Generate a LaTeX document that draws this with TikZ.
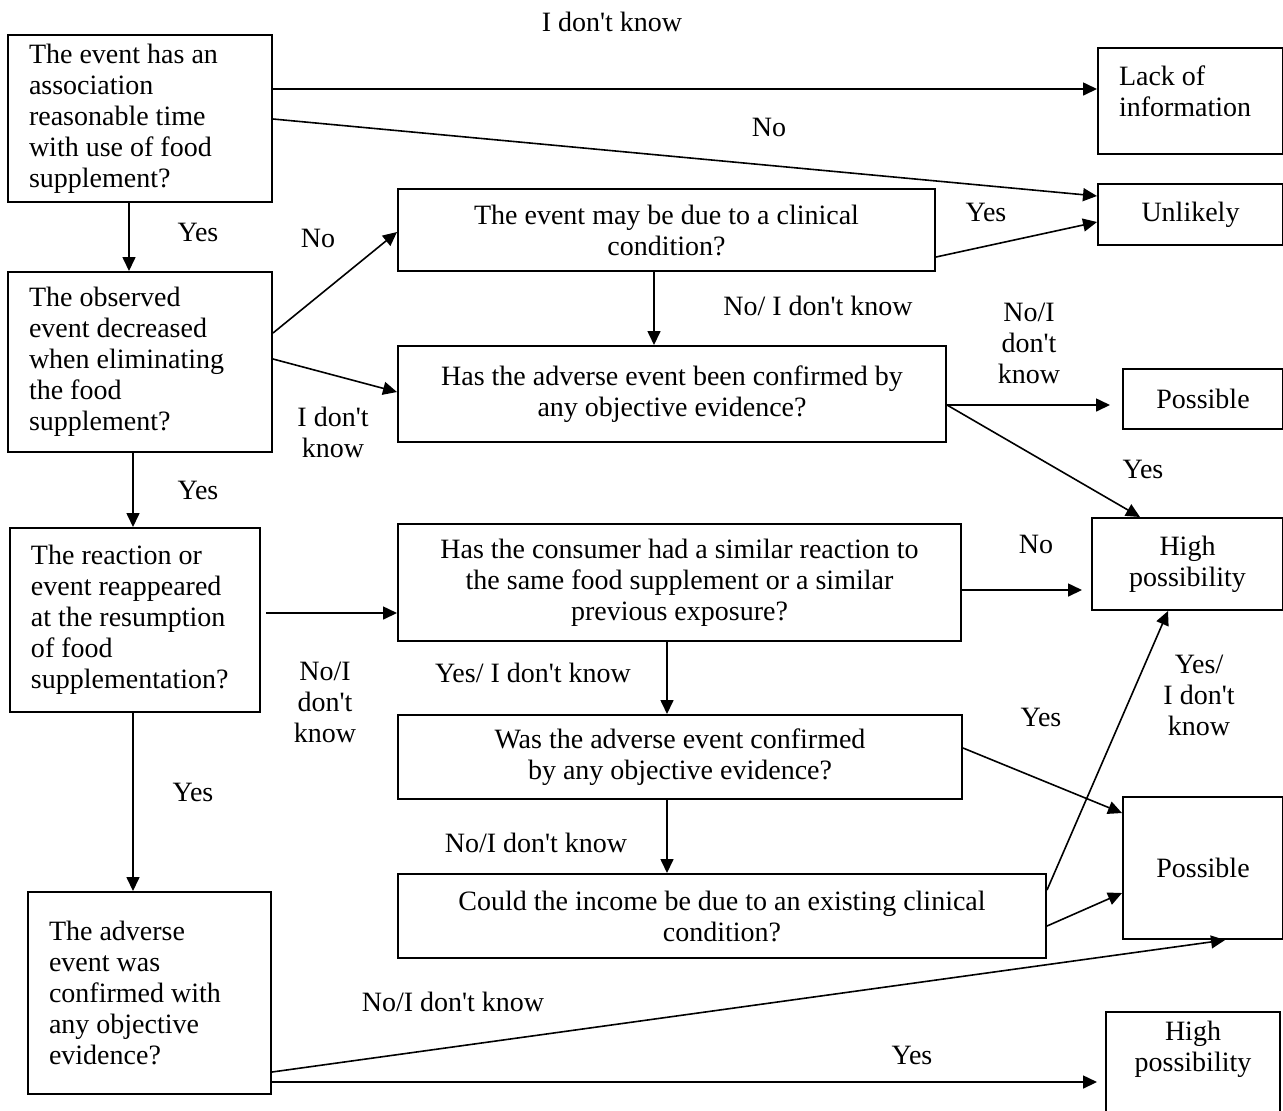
\documentclass[tikz,border=0pt]{standalone}
\usepackage{fontspec}
\setmainfont{Liberation Serif}
\usetikzlibrary{arrows.meta}
\newcommand{\apo}{\textquotesingle}

\begin{document}
\begin{tikzpicture}[
    x=0.5pt, y=-0.5pt,
    every node/.style={font=\fontsize{14}{15.5}\selectfont},
    qbox/.style={draw, line width=1pt, align=flush left, inner xsep=10.5pt, inner ysep=0pt},
    cbox/.style={draw, line width=1pt, align=center, inner sep=0pt},
    lbl/.style={align=center, inner sep=0pt},
    conn/.style={line width=0.8pt, -{Triangle[length=7pt, width=6.5pt]}},
]
    \useasboundingbox (0,0) rectangle (1283,1110);

    % left column
    \node[qbox, text width=111pt, minimum height=83.5pt] (q1) at (140,118.5) {
        The event has an\\
        association\\
        reasonable time\\
        with use of food\\
        supplement?
    };
    \node[qbox, text width=111pt, minimum height=90pt] (q2) at (140,362) {
        The observed\\
        event decreased\\
        when eliminating\\
        the food\\
        supplement?
    };
    \node[qbox, text width=104pt, minimum height=92pt] (q3) at (135,620) {
        The reaction or\\
        event reappeared\\
        at the resumption\\
        of food\\
        supplementation?
    };
    \node[qbox, text width=100.5pt, minimum height=101pt] (q4) at (149.5,993) {
        The adverse\\
        event was\\
        confirmed with\\
        any objective\\
        evidence?
    };

    % middle column
    \node[cbox, minimum width=268.5pt, minimum height=41pt] (clin) at (666.5,230) {
        The event may be due to a clinical\\
        condition?
    };
    \node[cbox, minimum width=274pt, minimum height=48pt] (conf) at (672,394) {
        Has the adverse event been confirmed by\\
        any objective evidence?
    };
    \node[cbox, minimum width=281.5pt, minimum height=58.5pt] (sim) at (679.5,582.5) {
        Has the consumer had a similar reaction to\\
        the same food supplement or a similar\\
        previous exposure?
    };
    \node[cbox, minimum width=282pt, minimum height=42pt] (was) at (680,757) {
        Was the adverse event confirmed\\
        by any objective evidence?
    };
    \node[cbox, minimum width=324pt, minimum height=42pt] (could) at (722,916) {
        Could the income be due to an existing clinical\\
        condition?
    };

    % outcomes
    \node[qbox, text width=71.5pt, text height=18.5pt, text depth=34.5pt] (lack) at (1190.5,101) {
        Lack of\\
        information
    };
    \node[cbox, minimum width=92.5pt, minimum height=30.5pt] (unlikely) at (1190.5,214.5) {Unlikely};
    \node[cbox, minimum width=80pt, minimum height=30pt] (poss1) at (1203,399) {Possible};
    \node[cbox, minimum width=95.5pt, minimum height=46pt] (high1) at (1187.5,564) {High\\possibility};
    \node[cbox, minimum width=80pt, minimum height=71pt] (poss2) at (1203,868) {Possible};
    \node[cbox, text width=87pt, text height=14pt, text depth=42.5pt] (high2) at (1193,1068.5) {
        High\\
        possibility
    };

    % connectors
    \draw[conn] (q1.east |- 0,89) -- (lack.west |- 0,89);
    \draw[conn] (q1.east |- 0,119) -- (unlikely.west |- 0,196);
    \draw[conn] (129,0 |- q1.south) -- (129,0 |- q2.north);
    \draw[conn] (q2.east |- 0,333) -- (clin.west |- 0,232);
    \draw[conn] (q2.east |- 0,359) -- (conf.west |- 0,392);
    \draw[conn] (clin.east |- 0,257) -- (unlikely.west |- 0,222);
    \draw[conn] (654,0 |- clin.south) -- (654,0 |- conf.north);
    \draw[conn, shorten >=6pt] (conf.east |- 0,405) -- (poss1.west |- 0,405);
    \draw[conn] (conf.east |- 0,405) -- (1140,0 |- high1.north);
    \draw[conn] (133,0 |- q2.south) -- (133,0 |- q3.north);
    \draw[conn, shorten <=2.5pt] (q3.east |- 0,613) -- (sim.west |- 0,613);
    \draw[conn, shorten >=4.5pt] (sim.east |- 0,590) -- (high1.west |- 0,590);
    \draw[conn] (667,0 |- sim.south) -- (667,0 |- was.north);
    \draw[conn] (was.east |- 0,748) -- (poss2.west |- 0,813);
    \draw[conn] (667,0 |- was.south) -- (667,0 |- could.north);
    \draw[conn] (could.east |- 0,890) -- (1168,0 |- high1.south);
    \draw[conn] (could.east |- 0,926) -- (poss2.west |- 0,893);
    \draw[conn] (133,0 |- q3.south) -- (133,0 |- q4.north);
    \draw[conn] (q4.east |- 0,1072) -- (1225,0 |- poss2.south);
    \draw[conn, shorten >=4pt] (q4.east |- 0,1082) -- (high2.west |- 0,1082);

    % answers
    \node[lbl] (l-idk) at (612,22) {I don\apo t know};
    \node[lbl] (l-no1) at (769,127) {No};
    \node[lbl] (l-yes1) at (198,232) {Yes};
    \node[lbl] (l-no2) at (318,238) {No};
    \node[lbl] (l-yes2) at (986,212) {Yes};
    \node[lbl] (l-noidk1) at (818,306) {No/ I don\apo t know};
    \node[lbl] (l-noidk2) at (1029,343) {No/I\\don\apo t\\know};
    \node[lbl] (l-idk2) at (333,432) {I don\apo t\\know};
    \node[lbl] (l-yes3) at (198,490) {Yes};
    \node[lbl] (l-yes4) at (1143,469) {Yes};
    \node[lbl] (l-no3) at (1036,544) {No};
    \node[lbl] (l-yesidk1) at (533,673) {Yes/ I don\apo t know};
    \node[lbl] (l-noidk3) at (325,702) {No/I\\don\apo t\\know};
    \node[lbl] (l-yes5) at (1041,717) {Yes};
    \node[lbl] (l-yesidk2) at (1199,695) {Yes/\\I don\apo t\\know};
    \node[lbl] (l-yes6) at (193,792) {Yes};
    \node[lbl] (l-noidk4) at (536,843) {No/I don\apo t know};
    \node[lbl] (l-noidk5) at (453,1002) {No/I don\apo t know};
    \node[lbl] (l-yes7) at (912,1055) {Yes};
\end{tikzpicture}
\end{document}
